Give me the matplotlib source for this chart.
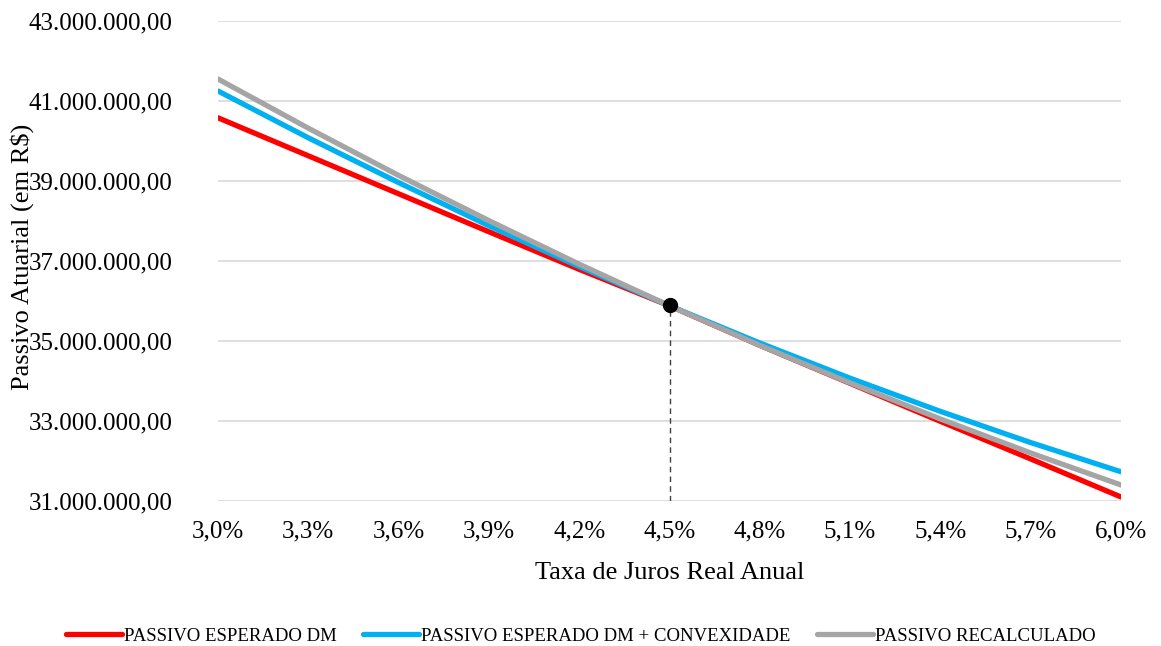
import matplotlib.pyplot as plt
from matplotlib.ticker import FuncFormatter

# taxa de juros real anual (%)
taxas = [3.0, 3.3, 3.6, 3.9, 4.2, 4.5, 4.8, 5.1, 5.4, 5.7, 6.0]

# passivo atuarial em milhoes de R$
passivo_dm = [40.58, 39.63, 38.68, 37.73, 36.79, 35.88, 34.89, 33.94, 32.99, 32.05, 31.10]
passivo_dm_conv = [41.25, 40.08, 38.96, 37.88, 36.86, 35.88, 34.95, 34.07, 33.24, 32.46, 31.73]
passivo_recalc = [41.55, 40.32, 39.14, 38.01, 36.92, 35.88, 34.89, 33.95, 33.05, 32.20, 31.40]

taxa_base = 4.5
passivo_base = 35.90

plt.rcParams['font.family'] = ['Liberation Serif', 'DejaVu Serif']

fig = plt.figure(figsize=(11.61, 6.46), dpi=100)
ax = fig.add_axes([218 / 1161, 0.2245, 903 / 1161, 0.743])

ax.plot(taxas, passivo_dm, color='#FF0000', lw=3.8, solid_capstyle='round',
        label='PASSIVO ESPERADO DM', zorder=3)
ax.plot(taxas, passivo_dm_conv, color='#00B0F0', lw=3.8, solid_capstyle='round',
        label='PASSIVO ESPERADO DM + CONVEXIDADE', zorder=4)
ax.plot(taxas, passivo_recalc, color='#A5A5A5', lw=3.8, solid_capstyle='round',
        label='PASSIVO RECALCULADO', zorder=5)

ax.plot([taxa_base, taxa_base], [31, passivo_base], color='#404040', lw=1,
        ls=(0, (4, 3)), zorder=2)
ax.plot([taxa_base], [passivo_base], 'o', color='black', ms=10, zorder=6)

ax.set_xlim(3.0, 6.0)
ax.set_ylim(31, 43)
ax.set_xticks(taxas)
ax.set_yticks([31, 33, 35, 37, 39, 41, 43])

ax.xaxis.set_major_formatter(FuncFormatter(lambda v, p: f'{v:.1f}%'.replace('.', ',')))
ax.yaxis.set_major_formatter(FuncFormatter(
    lambda v, p: f'{v * 1e6:,.2f}'.replace(',', 'X').replace('.', ',').replace('X', '.')))

ax.grid(axis='y', color='#D9D9D9', lw=1.2)
ax.set_axisbelow(True)
for s in ax.spines.values():
    s.set_visible(False)
ax.tick_params(length=0, labelsize=18)
ax.tick_params(axis='y', pad=33)
ax.tick_params(axis='x', pad=14)

ax.set_xlabel('Taxa de Juros Real Anual', fontsize=19, labelpad=14)
ax.set_ylabel('Passivo Atuarial (em R$)', fontsize=19, va='center')
ax.yaxis.set_label_coords(-196 / 903, 0.508)

fig.legend(loc='center', bbox_to_anchor=(0.5, 1 - 636 / 646), ncol=3, frameon=False,
           fontsize=13.5, handlelength=3.0, handletextpad=0.1, columnspacing=1.4)

fig.savefig('out.png', dpi=100)
